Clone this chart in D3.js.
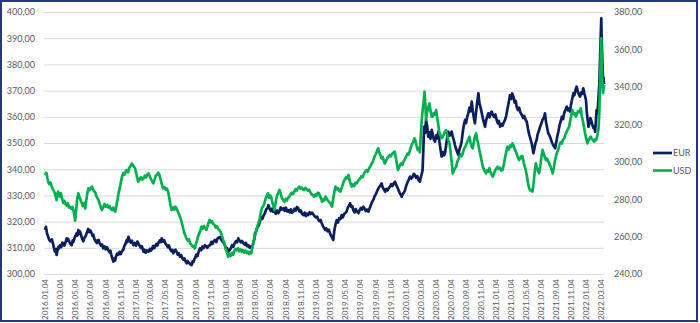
<!DOCTYPE html>
<html>
<head>
<meta charset="utf-8">
<script src="https://cdn.jsdelivr.net/npm/d3@7"></script>
<style>
  body { margin: 0; background: #fff; }
  svg { display: block; }
  text { font-family: Lato, "Open Sans", sans-serif; fill: #595959; }
</style>
</head>
<body>
<svg id="chart" width="700" height="323"></svg>
<script>
// EUR rate (left axis)
const eurSeries = [
  ["2016-01-04",316.8],["2016-01-08",318.0],["2016-01-12",315.5],["2016-01-17",314.2],["2016-01-21",313.0],
  ["2016-01-26",312.5],["2016-02-01",313.2],["2016-02-07",311.0],["2016-02-10",309.6],["2016-02-13",308.5],
  ["2016-02-17",309.5],["2016-02-20",307.3],["2016-02-24",309.2],["2016-02-27",310.4],["2016-03-01",309.8],
  ["2016-03-05",311.0],["2016-03-10",310.3],["2016-03-14",312.0],["2016-03-18",311.7],["2016-03-22",310.8],
  ["2016-03-25",311.4],["2016-03-29",312.6],["2016-04-01",313.6],["2016-04-04",312.7],["2016-04-07",313.4],
  ["2016-04-12",312.2],["2016-04-16",311.5],["2016-04-21",311.0],["2016-04-25",312.8],["2016-04-28",312.3],
  ["2016-05-03",313.9],["2016-05-07",314.6],["2016-05-11",315.5],["2016-05-15",314.7],["2016-05-18",316.8],
  ["2016-05-22",315.4],["2016-05-25",316.2],["2016-05-30",314.6],["2016-06-03",313.3],["2016-06-07",312.5],
  ["2016-06-12",313.8],["2016-06-17",314.5],["2016-06-22",315.9],["2016-06-27",317.2],["2016-07-01",316.0],
  ["2016-07-06",316.6],["2016-07-11",315.5],["2016-07-15",314.5],["2016-07-18",315.0],["2016-07-22",313.4],
  ["2016-07-27",312.5],["2016-08-01",311.8],["2016-08-04",312.9],["2016-08-08",313.0],["2016-08-13",311.6],
  ["2016-08-18",310.8],["2016-08-22",311.3],["2016-08-27",309.8],["2016-09-01",310.5],["2016-09-06",309.4],
  ["2016-09-11",310.2],["2016-09-16",309.2],["2016-09-21",308.3],["2016-09-25",308.9],["2016-09-28",307.5],
  ["2016-10-02",306.2],["2016-10-07",304.7],["2016-10-11",305.9],["2016-10-14",305.1],["2016-10-17",306.5],
  ["2016-10-22",307.8],["2016-10-27",307.3],["2016-11-01",308.4],["2016-11-06",307.6],["2016-11-11",308.8],
  ["2016-11-16",309.2],["2016-11-20",310.6],["2016-11-25",311.5],["2016-11-30",312.9],["2016-12-03",312.2],
  ["2016-12-07",314.2],["2016-12-11",313.1],["2016-12-16",312.0],["2016-12-21",312.7],["2016-12-27",311.0],
  ["2017-01-02",311.9],["2017-01-07",310.8],["2017-01-12",312.4],["2017-01-16",311.7],["2017-01-21",310.9],
  ["2017-01-26",310.0],["2017-01-31",310.6],["2017-02-06",308.5],["2017-02-10",309.3],["2017-02-15",308.1],
  ["2017-02-20",309.0],["2017-02-27",308.5],["2017-03-04",309.6],["2017-03-08",308.9],["2017-03-12",309.5],
  ["2017-03-17",310.7],["2017-03-21",309.8],["2017-03-25",310.4],["2017-03-30",311.5],["2017-04-04",310.9],
  ["2017-04-08",312.0],["2017-04-13",312.8],["2017-04-17",312.2],["2017-04-21",313.6],["2017-04-26",312.4],
  ["2017-05-01",312.9],["2017-05-06",311.6],["2017-05-11",311.0],["2017-05-16",310.2],["2017-05-20",310.9],
  ["2017-05-25",309.5],["2017-05-30",308.7],["2017-06-03",309.2],["2017-06-07",307.9],["2017-06-11",308.8],
  ["2017-06-16",309.3],["2017-06-20",308.5],["2017-06-25",307.4],["2017-06-29",307.9],["2017-07-04",306.6],
  ["2017-07-09",307.2],["2017-07-13",306.1],["2017-07-17",305.5],["2017-07-22",305.9],["2017-07-26",304.9],
  ["2017-07-31",304.1],["2017-08-04",305.0],["2017-08-09",304.3],["2017-08-14",303.8],["2017-08-20",303.4],
  ["2017-08-24",304.8],["2017-08-27",304.5],["2017-08-31",305.6],["2017-09-03",306.0],["2017-09-08",307.4],
  ["2017-09-13",306.8],["2017-09-18",308.6],["2017-09-23",309.8],["2017-09-28",309.1],["2017-10-03",310.5],
  ["2017-10-08",309.9],["2017-10-13",311.0],["2017-10-18",310.6],["2017-10-23",310.0],["2017-10-28",310.8],
  ["2017-11-03",311.0],["2017-11-08",312.3],["2017-11-13",311.5],["2017-11-18",312.6],["2017-11-23",313.0],
  ["2017-11-28",312.2],["2017-12-03",313.5],["2017-12-08",313.9],["2017-12-13",314.2],["2017-12-18",313.0],
  ["2017-12-23",312.5],["2017-12-28",311.8],["2018-01-02",311.0],["2018-01-06",309.6],["2018-01-11",309.9],
  ["2018-01-16",308.5],["2018-01-21",309.1],["2018-01-26",309.8],["2018-01-31",311.0],["2018-02-05",310.4],
  ["2018-02-10",311.7],["2018-02-15",312.5],["2018-02-20",312.1],["2018-02-25",313.6],["2018-03-02",312.8],
  ["2018-03-07",312.1],["2018-03-12",312.6],["2018-03-18",311.7],["2018-03-23",311.2],["2018-03-28",311.9],
  ["2018-04-02",310.6],["2018-04-07",311.0],["2018-04-12",310.1],["2018-04-17",310.5],["2018-04-21",309.8],
  ["2018-04-26",311.6],["2018-05-01",313.2],["2018-05-04",315.5],["2018-05-09",316.4],["2018-05-14",317.9],
  ["2018-05-19",318.6],["2018-05-24",320.0],["2018-05-29",321.7],["2018-06-03",321.1],["2018-06-08",322.4],
  ["2018-06-13",323.2],["2018-06-18",324.6],["2018-06-23",325.0],["2018-06-27",326.3],["2018-07-02",325.1],
  ["2018-07-07",324.0],["2018-07-12",324.9],["2018-07-17",323.8],["2018-07-22",324.3],["2018-07-27",323.0],
  ["2018-08-01",324.2],["2018-08-06",323.2],["2018-08-11",324.0],["2018-08-16",325.4],["2018-08-21",324.6],
  ["2018-08-27",325.1],["2018-09-01",324.1],["2018-09-06",325.3],["2018-09-11",323.9],["2018-09-16",324.4],
  ["2018-09-21",323.5],["2018-09-26",324.7],["2018-10-01",323.4],["2018-10-06",323.8],["2018-10-11",324.9],
  ["2018-10-16",324.2],["2018-10-21",325.6],["2018-10-26",325.1],["2018-10-31",323.8],["2018-11-05",324.3],
  ["2018-11-10",323.0],["2018-11-16",322.5],["2018-11-21",323.4],["2018-11-26",322.1],["2018-12-01",323.0],
  ["2018-12-06",322.5],["2018-12-11",323.6],["2018-12-16",322.9],["2018-12-21",323.4],["2018-12-26",322.8],
  ["2019-01-01",322.0],["2019-01-06",321.6],["2019-01-11",321.9],["2019-01-15",320.8],["2019-01-20",320.2],
  ["2019-01-25",320.6],["2019-01-29",319.4],["2019-02-03",318.3],["2019-02-08",317.6],["2019-02-12",316.8],
  ["2019-02-17",317.4],["2019-02-22",316.3],["2019-02-27",316.9],["2019-03-04",315.5],["2019-03-08",314.6],
  ["2019-03-12",314.0],["2019-03-17",313.0],["2019-03-21",316.4],["2019-03-26",318.9],["2019-03-31",320.6],
  ["2019-04-05",319.6],["2019-04-10",321.3],["2019-04-15",321.0],["2019-04-20",322.5],["2019-04-25",321.6],
  ["2019-04-30",322.9],["2019-05-05",323.3],["2019-05-10",323.8],["2019-05-15",325.4],["2019-05-20",326.1],
  ["2019-05-24",327.0],["2019-05-29",325.6],["2019-06-02",325.9],["2019-06-06",324.4],["2019-06-11",323.5],
  ["2019-06-16",324.8],["2019-06-21",323.9],["2019-06-27",323.2],["2019-07-02",324.4],["2019-07-07",325.2],
  ["2019-07-12",324.6],["2019-07-17",325.7],["2019-07-22",324.9],["2019-07-27",324.0],["2019-08-01",324.6],
  ["2019-08-06",323.8],["2019-08-11",325.0],["2019-08-16",326.2],["2019-08-21",327.5],["2019-08-26",328.2],
  ["2019-08-31",329.6],["2019-09-05",330.4],["2019-09-10",331.5],["2019-09-16",332.7],["2019-09-21",333.4],
  ["2019-09-25",333.9],["2019-09-29",334.6],["2019-10-03",333.1],["2019-10-08",332.3],["2019-10-13",331.4],
  ["2019-10-18",332.5],["2019-10-23",331.9],["2019-10-28",332.8],["2019-11-02",333.3],["2019-11-07",334.3],
  ["2019-11-12",333.6],["2019-11-17",334.6],["2019-11-22",335.2],["2019-11-27",334.0],["2019-12-02",333.1],
  ["2019-12-06",332.1],["2019-12-11",331.0],["2019-12-15",330.3],["2019-12-19",329.5],["2019-12-24",330.6],
  ["2019-12-29",331.2],["2020-01-02",332.1],["2020-01-07",333.8],["2020-01-12",335.0],["2020-01-17",336.1],
  ["2020-01-22",337.2],["2020-01-27",336.4],["2020-02-01",336.9],["2020-02-06",338.2],["2020-02-11",337.8],
  ["2020-02-16",336.7],["2020-02-21",337.3],["2020-02-25",335.9],["2020-03-02",335.2],["2020-03-06",337.1],
  ["2020-03-10",338.4],["2020-03-13",339.7],["2020-03-16",347.5],["2020-03-19",356.2],["2020-03-23",353.8],
  ["2020-03-27",358.8],["2020-03-31",356.7],["2020-04-05",352.4],["2020-04-09",354.1],["2020-04-14",351.6],
  ["2020-04-19",355.0],["2020-04-24",352.8],["2020-04-28",351.2],["2020-05-02",350.5],["2020-05-07",352.9],
  ["2020-05-12",351.8],["2020-05-16",354.3],["2020-05-20",350.6],["2020-05-25",347.3],["2020-05-29",344.8],
  ["2020-06-03",346.5],["2020-06-08",345.3],["2020-06-12",346.1],["2020-06-17",349.6],["2020-06-21",352.2],
  ["2020-06-25",354.3],["2020-06-30",352.8],["2020-07-04",353.6],["2020-07-09",354.3],["2020-07-13",352.4],
  ["2020-07-18",350.9],["2020-07-22",349.2],["2020-07-27",347.6],["2020-08-01",346.3],["2020-08-05",345.4],
  ["2020-08-09",347.5],["2020-08-14",348.9],["2020-08-18",350.5],["2020-08-22",353.6],["2020-08-27",356.8],
  ["2020-09-01",358.8],["2020-09-05",357.6],["2020-09-10",360.0],["2020-09-14",361.3],["2020-09-19",363.5],
  ["2020-09-24",362.1],["2020-09-28",365.8],["2020-10-02",362.5],["2020-10-07",359.4],["2020-10-11",357.5],
  ["2020-10-15",361.2],["2020-10-20",365.4],["2020-10-25",369.0],["2020-10-29",365.3],["2020-11-03",363.5],
  ["2020-11-08",361.3],["2020-11-12",359.4],["2020-11-17",357.6],["2020-11-21",356.2],["2020-11-25",358.5],
  ["2020-11-30",360.1],["2020-12-04",361.3],["2020-12-09",359.8],["2020-12-14",361.4],["2020-12-18",362.0],
  ["2020-12-23",360.6],["2020-12-28",359.9],["2021-01-02",360.9],["2021-01-07",358.8],["2021-01-12",357.5],
  ["2021-01-16",358.4],["2021-01-21",356.2],["2021-01-26",357.3],["2021-01-31",356.6],["2021-02-05",357.9],
  ["2021-02-10",358.8],["2021-02-15",360.5],["2021-02-20",363.2],["2021-02-25",365.5],["2021-03-02",368.3],
  ["2021-03-07",366.8],["2021-03-11",368.9],["2021-03-16",367.7],["2021-03-21",365.4],["2021-03-25",366.1],
  ["2021-03-29",363.9],["2021-04-03",362.6],["2021-04-08",363.5],["2021-04-13",361.7],["2021-04-19",360.7],
  ["2021-04-24",359.5],["2021-04-29",360.3],["2021-05-04",358.9],["2021-05-09",358.1],["2021-05-14",355.4],
  ["2021-05-19",353.2],["2021-05-24",351.6],["2021-05-29",349.9],["2021-06-02",347.8],["2021-06-05",346.1],
  ["2021-06-09",347.9],["2021-06-14",350.2],["2021-06-18",351.1],["2021-06-22",353.3],["2021-06-27",354.6],
  ["2021-07-02",356.2],["2021-07-07",357.4],["2021-07-12",358.9],["2021-07-17",359.6],["2021-07-22",361.3],
  ["2021-07-26",358.0],["2021-07-31",355.6],["2021-08-04",353.7],["2021-08-09",352.9],["2021-08-14",351.7],
  ["2021-08-18",350.5],["2021-08-23",349.4],["2021-08-28",348.6],["2021-09-01",348.0],["2021-09-05",350.1],
  ["2021-09-10",352.6],["2021-09-14",354.3],["2021-09-19",356.8],["2021-09-24",358.4],["2021-09-28",360.0],
  ["2021-10-03",359.1],["2021-10-08",361.6],["2021-10-13",362.7],["2021-10-18",363.9],["2021-10-23",362.5],
  ["2021-10-27",363.1],["2021-10-31",362.0],["2021-11-04",364.5],["2021-11-09",366.8],["2021-11-14",369.0],
  ["2021-11-18",368.2],["2021-11-23",370.4],["2021-11-27",371.5],["2021-12-02",369.6],["2021-12-07",368.4],
  ["2021-12-11",367.7],["2021-12-16",369.3],["2021-12-20",368.8],["2021-12-24",370.9],["2021-12-29",368.7],
  ["2022-01-04",366.4],["2022-01-07",362.1],["2022-01-11",358.5],["2022-01-14",356.2],["2022-01-18",357.4],
  ["2022-01-22",359.5],["2022-01-27",358.1],["2022-01-31",356.5],["2022-02-04",355.6],["2022-02-07",356.3],
  ["2022-02-10",354.3],["2022-02-13",358.1],["2022-02-16",362.6],["2022-02-20",361.4],["2022-02-24",368.0],
  ["2022-02-27",372.5],["2022-03-01",379.1],["2022-03-04",388.5],["2022-03-07",397.6],["2022-03-08",392.0],
  ["2022-03-10",385.5],["2022-03-12",379.5],["2022-03-14",374.0],["2022-03-16",375.1],["2022-03-18",372.5]
];

// USD rate (right axis)
const usdSeries = [
  ["2016-01-04",292.9],["2016-01-08",294.0],["2016-01-11",293.5],["2016-01-14",291.0],["2016-01-17",289.3],
  ["2016-01-21",288.1],["2016-01-26",288.9],["2016-01-31",286.7],["2016-02-04",285.4],["2016-02-08",284.6],
  ["2016-02-13",283.1],["2016-02-17",281.2],["2016-02-20",279.5],["2016-02-23",282.6],["2016-02-26",284.0],
  ["2016-03-01",282.7],["2016-03-04",281.3],["2016-03-08",283.2],["2016-03-12",280.9],["2016-03-18",278.0],
  ["2016-03-22",279.1],["2016-03-27",277.3],["2016-04-01",276.5],["2016-04-05",277.8],["2016-04-10",275.6],
  ["2016-04-14",276.0],["2016-04-19",274.9],["2016-04-24",275.8],["2016-04-28",274.2],["2016-05-02",271.4],
  ["2016-05-05",268.5],["2016-05-09",273.8],["2016-05-13",279.6],["2016-05-18",283.1],["2016-05-22",281.4],
  ["2016-05-27",279.6],["2016-06-01",277.8],["2016-06-05",276.3],["2016-06-10",277.9],["2016-06-15",275.0],
  ["2016-06-19",279.2],["2016-06-24",283.4],["2016-06-28",285.8],["2016-07-03",284.9],["2016-07-08",286.1],
  ["2016-07-12",286.7],["2016-07-17",285.0],["2016-07-21",284.2],["2016-07-26",283.5],["2016-07-30",281.6],
  ["2016-08-04",280.4],["2016-08-08",279.5],["2016-08-12",277.6],["2016-08-17",275.8],["2016-08-22",274.2],
  ["2016-08-27",275.7],["2016-09-01",277.4],["2016-09-06",276.0],["2016-09-11",276.9],["2016-09-16",275.6],
  ["2016-09-21",276.4],["2016-09-26",274.8],["2016-10-01",274.2],["2016-10-06",275.5],["2016-10-10",274.0],
  ["2016-10-15",273.3],["2016-10-19",276.4],["2016-10-24",279.8],["2016-10-28",283.1],["2016-11-02",286.0],
  ["2016-11-07",289.4],["2016-11-11",292.0],["2016-11-16",293.9],["2016-11-21",293.0],["2016-11-26",294.8],
  ["2016-12-01",295.6],["2016-12-06",294.3],["2016-12-11",296.9],["2016-12-16",297.8],["2016-12-21",299.1],
  ["2016-12-26",298.0],["2016-12-30",297.2],["2017-01-03",296.5],["2017-01-07",294.1],["2017-01-12",291.2],
  ["2017-01-16",289.3],["2017-01-21",290.6],["2017-01-26",291.8],["2017-01-31",290.4],["2017-02-06",291.1],
  ["2017-02-11",292.5],["2017-02-16",291.6],["2017-02-21",293.0],["2017-02-26",293.8],["2017-03-03",292.4],
  ["2017-03-08",290.7],["2017-03-13",289.6],["2017-03-18",288.5],["2017-03-23",290.4],["2017-03-28",292.6],
  ["2017-04-02",293.0],["2017-04-07",294.1],["2017-04-12",292.8],["2017-04-17",290.2],["2017-04-22",287.6],
  ["2017-04-27",285.8],["2017-05-02",286.4],["2017-05-07",285.1],["2017-05-12",285.6],["2017-05-17",284.0],
  ["2017-05-22",280.3],["2017-05-26",277.1],["2017-05-31",274.2],["2017-06-05",275.6],["2017-06-10",274.4],
  ["2017-06-15",276.0],["2017-06-20",275.1],["2017-06-25",273.4],["2017-06-30",271.9],["2017-07-05",270.2],
  ["2017-07-10",268.0],["2017-07-15",265.4],["2017-07-20",262.6],["2017-07-25",260.8],["2017-07-30",259.1],
  ["2017-08-04",257.8],["2017-08-09",258.6],["2017-08-14",256.4],["2017-08-20",255.5],["2017-08-24",254.6],
  ["2017-08-29",254.9],["2017-09-02",253.7],["2017-09-06",255.9],["2017-09-11",257.8],["2017-09-15",259.9],
  ["2017-09-20",261.8],["2017-09-25",263.4],["2017-09-29",265.3],["2017-10-04",264.2],["2017-10-09",265.6],
  ["2017-10-14",264.4],["2017-10-19",263.5],["2017-10-24",265.8],["2017-10-28",267.4],["2017-11-01",268.9],
  ["2017-11-06",267.6],["2017-11-11",268.2],["2017-11-16",266.7],["2017-11-21",266.2],["2017-11-26",264.8],
  ["2017-12-01",265.5],["2017-12-06",264.1],["2017-12-11",263.5],["2017-12-16",262.2],["2017-12-21",260.4],
  ["2017-12-26",258.1],["2018-01-02",255.5],["2018-01-06",253.1],["2018-01-11",251.2],["2018-01-15",249.2],
  ["2018-01-20",250.6],["2018-01-25",249.6],["2018-01-30",251.3],["2018-02-04",250.2],["2018-02-09",252.4],
  ["2018-02-14",253.4],["2018-02-19",252.6],["2018-02-24",253.7],["2018-03-01",252.1],["2018-03-06",253.2],
  ["2018-03-11",251.9],["2018-03-16",252.8],["2018-03-21",251.4],["2018-03-26",252.5],["2018-03-31",251.2],
  ["2018-04-05",251.9],["2018-04-10",250.6],["2018-04-15",252.0],["2018-04-19",251.0],["2018-04-23",254.2],
  ["2018-04-28",257.1],["2018-05-02",259.9],["2018-05-07",262.0],["2018-05-12",264.8],["2018-05-17",266.9],
  ["2018-05-22",268.9],["2018-05-27",272.6],["2018-06-01",275.3],["2018-06-06",276.1],["2018-06-11",277.8],
  ["2018-06-16",280.4],["2018-06-21",282.0],["2018-06-25",283.1],["2018-06-30",280.7],["2018-07-04",282.1],
  ["2018-07-08",281.3],["2018-07-13",278.2],["2018-07-18",276.0],["2018-07-22",274.2],["2018-07-27",278.6],
  ["2018-08-01",281.9],["2018-08-06",283.3],["2018-08-11",284.9],["2018-08-16",283.0],["2018-08-21",280.6],
  ["2018-08-26",279.6],["2018-08-31",278.6],["2018-09-05",280.1],["2018-09-10",279.3],["2018-09-15",280.8],
  ["2018-09-20",281.3],["2018-09-25",282.6],["2018-09-30",283.5],["2018-10-05",282.7],["2018-10-10",284.0],
  ["2018-10-15",285.3],["2018-10-20",284.6],["2018-10-25",285.8],["2018-10-30",286.7],["2018-11-04",285.6],
  ["2018-11-09",286.2],["2018-11-14",285.3],["2018-11-19",284.9],["2018-11-24",286.0],["2018-11-29",285.4],
  ["2018-12-04",284.6],["2018-12-09",285.0],["2018-12-14",283.8],["2018-12-19",282.6],["2018-12-24",282.2],
  ["2018-12-29",281.3],["2019-01-03",282.5],["2019-01-08",281.8],["2019-01-13",283.4],["2019-01-18",283.1],
  ["2019-01-22",281.6],["2019-01-27",280.2],["2019-01-31",278.6],["2019-02-04",280.0],["2019-02-09",279.4],
  ["2019-02-14",281.3],["2019-02-19",280.0],["2019-02-24",279.1],["2019-03-01",278.4],["2019-03-06",277.8],
  ["2019-03-09",276.6],["2019-03-12",276.0],["2019-03-16",279.8],["2019-03-21",283.4],["2019-03-26",286.7],
  ["2019-03-31",285.3],["2019-04-05",285.9],["2019-04-10",284.4],["2019-04-15",284.0],["2019-04-20",286.1],
  ["2019-04-24",287.6],["2019-04-28",289.3],["2019-05-03",290.5],["2019-05-08",291.7],["2019-05-13",291.2],
  ["2019-05-18",292.9],["2019-05-22",290.1],["2019-05-27",288.0],["2019-05-31",286.7],["2019-06-05",287.9],
  ["2019-06-10",287.0],["2019-06-15",288.8],["2019-06-20",288.5],["2019-06-25",289.6],["2019-06-29",290.3],
  ["2019-07-04",291.1],["2019-07-09",292.3],["2019-07-14",291.8],["2019-07-19",293.5],["2019-07-24",294.7],
  ["2019-07-29",295.5],["2019-08-03",294.6],["2019-08-08",296.2],["2019-08-13",297.3],["2019-08-18",298.6],
  ["2019-08-22",299.4],["2019-08-26",300.9],["2019-08-31",302.5],["2019-09-05",304.0],["2019-09-10",305.6],
  ["2019-09-15",307.2],["2019-09-20",304.8],["2019-09-24",303.5],["2019-09-28",301.8],["2019-10-03",302.6],
  ["2019-10-08",300.4],["2019-10-12",299.1],["2019-10-17",300.6],["2019-10-22",301.9],["2019-10-27",302.7],
  ["2019-11-01",303.6],["2019-11-06",302.9],["2019-11-11",304.3],["2019-11-16",304.9],["2019-11-21",305.4],
  ["2019-11-25",302.5],["2019-11-29",299.6],["2019-12-04",295.6],["2019-12-08",296.8],["2019-12-13",298.4],
  ["2019-12-17",299.1],["2019-12-22",298.4],["2019-12-27",300.2],["2020-01-01",301.4],["2020-01-06",302.7],
  ["2020-01-11",304.3],["2020-01-16",303.8],["2020-01-21",305.7],["2020-01-26",308.0],["2020-01-31",309.6],
  ["2020-02-05",310.8],["2020-02-09",312.5],["2020-02-14",310.8],["2020-02-18",308.4],["2020-02-22",306.3],
  ["2020-02-26",307.2],["2020-03-02",305.0],["2020-03-05",312.6],["2020-03-09",321.4],["2020-03-13",327.5],
  ["2020-03-17",331.6],["2020-03-21",337.4],["2020-03-24",331.0],["2020-03-27",322.3],["2020-03-31",326.4],
  ["2020-04-05",329.1],["2020-04-10",331.2],["2020-04-14",327.3],["2020-04-19",324.1],["2020-04-23",324.1],
  ["2020-04-28",326.0],["2020-05-02",325.2],["2020-05-07",327.6],["2020-05-11",323.6],["2020-05-16",319.3],
  ["2020-05-20",315.2],["2020-05-25",314.0],["2020-05-29",312.6],["2020-06-03",313.4],["2020-06-08",315.0],
  ["2020-06-12",316.1],["2020-06-16",316.9],["2020-06-21",314.2],["2020-06-25",311.5],["2020-06-30",309.8],
  ["2020-07-04",305.4],["2020-07-09",299.6],["2020-07-13",293.8],["2020-07-18",295.2],["2020-07-22",296.5],
  ["2020-07-27",297.3],["2020-07-31",299.8],["2020-08-05",301.3],["2020-08-09",302.7],["2020-08-14",303.9],
  ["2020-08-18",303.0],["2020-08-23",304.5],["2020-08-27",306.6],["2020-09-01",307.8],["2020-09-05",308.9],
  ["2020-09-10",310.6],["2020-09-14",311.9],["2020-09-19",313.4],["2020-09-23",310.4],["2020-09-28",308.1],
  ["2020-10-02",307.2],["2020-10-07",310.8],["2020-10-11",313.6],["2020-10-16",315.2],["2020-10-20",312.0],
  ["2020-10-25",309.1],["2020-10-29",306.3],["2020-11-03",303.2],["2020-11-07",300.5],["2020-11-12",297.3],
  ["2020-11-16",295.9],["2020-11-21",294.6],["2020-11-25",293.8],["2020-11-30",295.4],["2020-12-04",294.7],
  ["2020-12-09",296.5],["2020-12-13",294.4],["2020-12-18",293.1],["2020-12-22",292.0],["2020-12-27",293.6],
  ["2020-12-31",295.1],["2021-01-05",296.2],["2021-01-11",297.3],["2021-01-16",296.0],["2021-01-21",296.8],
  ["2021-01-26",295.2],["2021-01-31",295.6],["2021-02-05",298.4],["2021-02-10",302.1],["2021-02-15",305.3],
  ["2021-02-20",308.0],["2021-02-25",306.5],["2021-03-02",308.6],["2021-03-07",307.9],["2021-03-12",309.8],
  ["2021-03-16",308.8],["2021-03-21",306.7],["2021-03-26",305.4],["2021-03-31",303.6],["2021-04-04",302.0],
  ["2021-04-08",300.9],["2021-04-13",301.8],["2021-04-18",303.1],["2021-04-22",302.7],["2021-04-27",299.3],
  ["2021-05-01",297.4],["2021-05-05",295.6],["2021-05-10",292.1],["2021-05-14",288.6],["2021-05-19",285.8],
  ["2021-05-23",284.6],["2021-05-28",284.9],["2021-06-01",284.0],["2021-06-05",287.6],["2021-06-10",294.3],
  ["2021-06-15",299.1],["2021-06-19",296.8],["2021-06-24",295.0],["2021-06-28",293.8],["2021-07-03",297.6],
  ["2021-07-07",302.2],["2021-07-12",306.3],["2021-07-17",304.2],["2021-07-21",302.5],["2021-07-26",300.9],
  ["2021-07-30",301.7],["2021-08-04",300.2],["2021-08-08",299.1],["2021-08-13",297.4],["2021-08-18",295.6],
  ["2021-08-22",293.8],["2021-08-27",296.9],["2021-08-31",300.4],["2021-09-04",302.7],["2021-09-09",305.1],
  ["2021-09-14",306.6],["2021-09-18",308.9],["2021-09-23",310.4],["2021-09-28",309.7],["2021-10-03",311.8],
  ["2021-10-08",312.5],["2021-10-13",314.6],["2021-10-18",316.2],["2021-10-23",317.4],["2021-10-28",318.7],
  ["2021-11-01",321.9],["2021-11-06",325.0],["2021-11-10",327.6],["2021-11-15",325.4],["2021-11-19",326.0],
  ["2021-11-24",324.1],["2021-11-29",325.9],["2021-12-04",327.1],["2021-12-09",326.4],["2021-12-14",328.5],
  ["2021-12-18",324.6],["2021-12-23",321.4],["2021-12-27",318.7],["2021-12-31",315.3],["2022-01-05",312.5],
  ["2022-01-10",309.8],["2022-01-14",311.2],["2022-01-19",312.6],["2022-01-23",313.4],["2022-01-28",312.1],
  ["2022-02-02",311.4],["2022-02-06",310.7],["2022-02-10",312.0],["2022-02-14",311.5],["2022-02-19",313.8],
  ["2022-02-24",318.0],["2022-02-27",326.5],["2022-03-01",338.0],["2022-03-04",352.4],["2022-03-07",365.9],
  ["2022-03-08",359.6],["2022-03-10",347.2],["2022-03-12",341.3],["2022-03-14",336.6],["2022-03-16",339.0],
  ["2022-03-18",341.0]
];

const seriesNames = ["EUR", "USD"];
const seriesColors = ["#0b1f5e", "#00b050"];
const leftTicks = [300, 310, 320, 330, 340, 350, 360, 370, 380, 390, 400];
const rightTicks = [240, 260, 280, 300, 320, 340, 360, 380];
const dateTickLabels = [
  "2016.01.04","2016.03.04","2016.05.04","2016.07.04","2016.09.04","2016.11.04",
  "2017.01.04","2017.03.04","2017.05.04","2017.07.04","2017.09.04","2017.11.04",
  "2018.01.04","2018.03.04","2018.05.04","2018.07.04","2018.09.04","2018.11.04",
  "2019.01.04","2019.03.04","2019.05.04","2019.07.04","2019.09.04","2019.11.04",
  "2020.01.04","2020.03.04","2020.05.04","2020.07.04","2020.09.04","2020.11.04",
  "2021.01.04","2021.03.04","2021.05.04","2021.07.04","2021.09.04","2021.11.04",
  "2022.01.04","2022.03.04"
];

const parseDay = d3.utcParse("%Y-%m-%d");
const parseTick = d3.utcParse("%Y.%m.%d");
const eur = eurSeries.map(([d, v]) => ({ date: parseDay(d), value: v }));
const usd = usdSeries.map(([d, v]) => ({ date: parseDay(d), value: v }));
const tickDates = dateTickLabels.map(parseTick);

const svg = d3.select("#chart");
const plot = { left: 44, right: 604, top: 12, bottom: 274 };

const x = d3.scaleUtc()
  .domain([parseDay("2016-01-04"), parseDay("2022-03-18")])
  .range([45, 604]);
const yLeft = d3.scaleLinear().domain([300, 400]).range([plot.bottom, plot.top]);
const yRight = d3.scaleLinear().domain([240, 380]).range([plot.bottom, plot.top]);

const commaFmt = v => d3.format(".2f")(v).replace(".", ",");

// outer frame
svg.append("rect")
  .attr("x", 1).attr("y", 1).attr("width", 696).attr("height", 320)
  .attr("fill", "none").attr("stroke", "#22397a").attr("stroke-width", 2);

// left axis with horizontal gridlines
const gLeft = svg.append("g")
  .attr("transform", `translate(${plot.left},0)`)
  .call(d3.axisLeft(yLeft).tickValues(leftTicks)
    .tickSize(-(plot.right - plot.left)).tickPadding(9).tickFormat(commaFmt));
gLeft.select(".domain").remove();
gLeft.selectAll(".tick line").attr("stroke", "#d9d9d9").attr("stroke-width", 1);
gLeft.selectAll("text").attr("font-size", 9).style("font-family", "Lato, sans-serif");

// right axis
const gRight = svg.append("g")
  .attr("transform", `translate(${plot.right},0)`)
  .call(d3.axisRight(yRight).tickValues(rightTicks)
    .tickSize(0).tickPadding(10).tickFormat(commaFmt));
gRight.select(".domain").remove();
gRight.selectAll("text").attr("font-size", 9);

// date axis
const gBottom = svg.append("g")
  .attr("transform", `translate(0,${plot.bottom})`)
  .call(d3.axisBottom(x).tickValues(tickDates).tickSize(0)
    .tickFormat((d, i) => dateTickLabels[i]));
gBottom.select(".domain").remove();
gBottom.selectAll("text")
  .attr("font-size", 8)
  .attr("transform", "rotate(-90)")
  .attr("text-anchor", "end")
  .attr("x", -5).attr("y", 0).attr("dy", "0.35em");

// series lines
const lineLeft = d3.line().x(d => x(d.date)).y(d => yLeft(d.value));
const lineRight = d3.line().x(d => x(d.date)).y(d => yRight(d.value));

svg.append("path").datum(eur)
  .attr("fill", "none").attr("stroke", seriesColors[0])
  .attr("stroke-width", 2.7).attr("stroke-linejoin", "round")
  .attr("d", lineLeft);
svg.append("path").datum(usd)
  .attr("fill", "none").attr("stroke", seriesColors[1])
  .attr("stroke-width", 2.7).attr("stroke-linejoin", "round")
  .attr("d", lineRight);

// legend
const legend = svg.append("g").attr("transform", "translate(653,153)");
seriesNames.forEach((name, i) => {
  const row = legend.append("g").attr("transform", `translate(0,${i * 17.5})`);
  row.append("line").attr("x1", 0).attr("x2", 19).attr("y1", 0).attr("y2", 0)
    .attr("stroke", seriesColors[i]).attr("stroke-width", 2.7);
  row.append("text").attr("x", 20).attr("y", 0).attr("dy", "0.35em")
    .attr("font-size", 9).text(name);
});
</script>
</body>
</html>
